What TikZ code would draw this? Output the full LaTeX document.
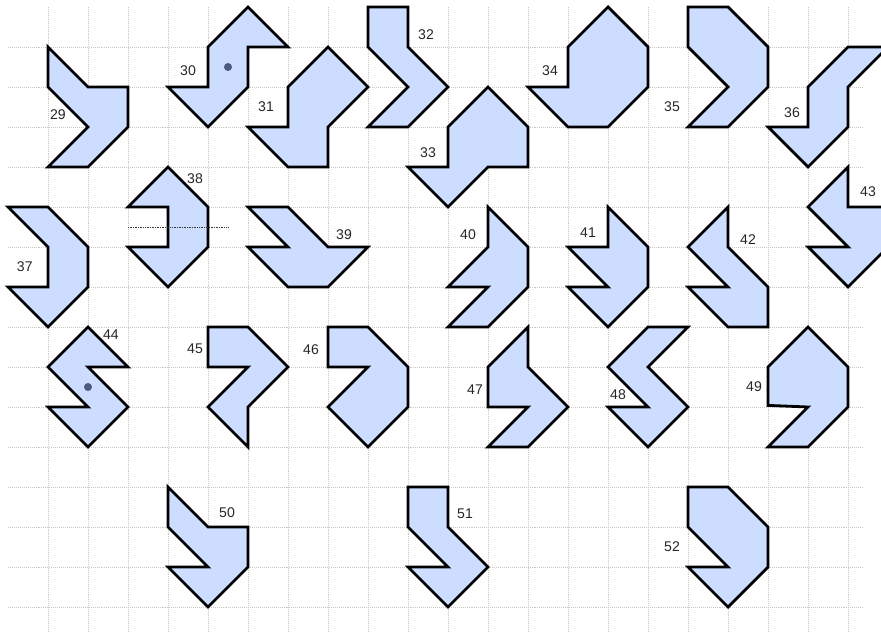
\documentclass[tikz,border=0pt]{standalone}
\usepackage{fontspec}
\setmainfont{Liberation Sans}
\begin{document}
\begin{tikzpicture}[x=1cm,y=-1cm,
  gridline/.style={draw={rgb,255:red,200;green,200;blue,200},line width=0.6pt,dash pattern=on 0.7pt off 0.7pt},
  poly/.style={draw=black,line width=2pt,fill={rgb,255:red,204;green,221;blue,255},line join=miter},
  lbl/.style={font=\fontsize{10}{12}\selectfont,text=black!85,inner sep=0pt},
  dotmark/.style={fill={rgb,255:red,74;green,90;blue,128}}]
\useasboundingbox (-0.2,-0.175) rectangle (21.825,15.625);
\begin{scope}
\clip (-0.2,-0.175) rectangle (21.825,15.625);
% grid
\foreach \c in {1,...,21} \draw[gridline] (\c,0) -- (\c,15.7);
\foreach \r in {1,...,15} \draw[gridline] (0,\r) -- (21.375,\r);
% shapes
\draw[poly] (1,1)--(2,2)--(3,2)--(3,3)--(2,4)--(1,4)--(2,3)--(1,2)--cycle;
\draw[poly] (5,1)--(6,0)--(7,1)--(6,1)--(6,2)--(5,3)--(4,2)--(5,2)--cycle;
\draw[poly] (7,2)--(8,1)--(9,2)--(8,3)--(8,4)--(7,4)--(6,3)--(7,3)--cycle;
\draw[poly] (9,0)--(10,0)--(10,1)--(11,2)--(10,3)--(9,3)--(10,2)--(9,1)--cycle;
\draw[poly] (10,4)--(11,4)--(11,3)--(12,2)--(13,3)--(13,4)--(12,4)--(11,5)--cycle;
\draw[poly] (13,2)--(14,2)--(14,1)--(15,0)--(16,1)--(16,2)--(15,3)--(14,3)--cycle;
\draw[poly] (17,0)--(18,0)--(19,1)--(19,2)--(18,3)--(17,3)--(18,2)--(17,1)--cycle;
\draw[poly] (21,1)--(22,1)--(21,2)--(21,3)--(20,4)--(19,3)--(20,3)--(20,2)--cycle;
\draw[poly] (0,5)--(1,5)--(2,6)--(2,7)--(1,8)--(0,7)--(1,7)--(1,6)--cycle;
\draw[poly] (4,4)--(5,5)--(5,6)--(4,7)--(3,6)--(4,6)--(4,5)--(3,5)--cycle;
\draw[poly] (6,5)--(7,5)--(8,6)--(9,6)--(8,7)--(7,7)--(6,6)--(7,6)--cycle;
\draw[poly] (12,5)--(13,6)--(13,7)--(12,8)--(11,8)--(12,7)--(11,7)--(12,6)--cycle;
\draw[poly] (15,5)--(16,6)--(16,7)--(15,8)--(14,7)--(15,7)--(14,6)--(15,6)--cycle;
\draw[poly] (18,5)--(18,6)--(19,7)--(19,8)--(18,8)--(17,7)--(18,7)--(17,6)--cycle;
\draw[poly] (21,4)--(21,5)--(22,5)--(22,6)--(21,7)--(20,6)--(21,6)--(20,5)--cycle;
\draw[poly] (2,8)--(3,9)--(2,9)--(3,10)--(2,11)--(1,10)--(2,10)--(1,9)--cycle;
\draw[poly] (5,8)--(6,8)--(7,9)--(6,10)--(6,11)--(5,10)--(6,9)--(5,9)--cycle;
\draw[poly] (8,8)--(9,8)--(10,9)--(10,10)--(9,11)--(8,10)--(9,9)--(8,9)--cycle;
\draw[poly] (13,8)--(13,9)--(14,10)--(13,11)--(12,11)--(13,10)--(12,10)--(12,9)--cycle;
\draw[poly] (16,8)--(17,8)--(16,9)--(17,10)--(16,11)--(15,10)--(16,10)--(15,9)--cycle;
\draw[poly] (20,8)--(21,9)--(21,10)--(20,11)--(19,11)--(20,10)--(19,9.96)--(19,9)--cycle;
\draw[poly] (4,12)--(5,13)--(6,13)--(6,14)--(5,15)--(4,14)--(5,14)--(4,13)--cycle;
\draw[poly] (10,12)--(11,12)--(11,13)--(12,14)--(11,15)--(10,14)--(11,14)--(10,13)--cycle;
\draw[poly] (17,12)--(18,12)--(19,13)--(19,14)--(18,15)--(17,14)--(18,14)--(17,13)--cycle;
\end{scope}
% extras
\coordinate (d38a) at (3,5.5);
\coordinate (d38b) at (5.5,5.5);
\draw[black!80,line width=0.6pt,dash pattern=on 0.6pt off 0.6pt] (d38a) -- (d38b);
\fill[dotmark] (5.5,1.5) circle (0.1);
\fill[dotmark] (2,9.5) circle (0.1);
% labels
\node[lbl] (l29) at (1.25,2.7) {29};
\node[lbl] (l30) at (4.5,1.6) {30};
\node[lbl] (l31) at (6.45,2.5) {31};
\node[lbl] (l32) at (10.45,0.7) {32};
\node[lbl] (l33) at (10.5,3.65) {33};
\node[lbl] (l34) at (13.55,1.6) {34};
\node[lbl] (l35) at (16.6,2.5) {35};
\node[lbl] (l36) at (19.6,2.65) {36};
\node[lbl] (l37) at (0.42,6.5) {37};
\node[lbl] (l38) at (4.675,4.3) {38};
\node[lbl] (l39) at (8.4,5.7) {39};
\node[lbl] (l40) at (11.5,5.7) {40};
\node[lbl] (l41) at (14.5,5.65) {41};
\node[lbl] (l42) at (18.5,5.825) {42};
\node[lbl] (l43) at (21.5,4.625) {43};
\node[lbl] (l44) at (2.575,8.2) {44};
\node[lbl] (l45) at (4.675,8.55) {45};
\node[lbl] (l46) at (7.575,8.575) {46};
\node[lbl] (l47) at (11.675,9.575) {47};
\node[lbl] (l48) at (15.25,9.7) {48};
\node[lbl] (l49) at (18.65,9.5) {49};
\node[lbl] (l50) at (5.475,12.65) {50};
\node[lbl] (l51) at (11.425,12.675) {51};
\node[lbl] (l52) at (16.6,13.5) {52};
\end{tikzpicture}
\end{document}
